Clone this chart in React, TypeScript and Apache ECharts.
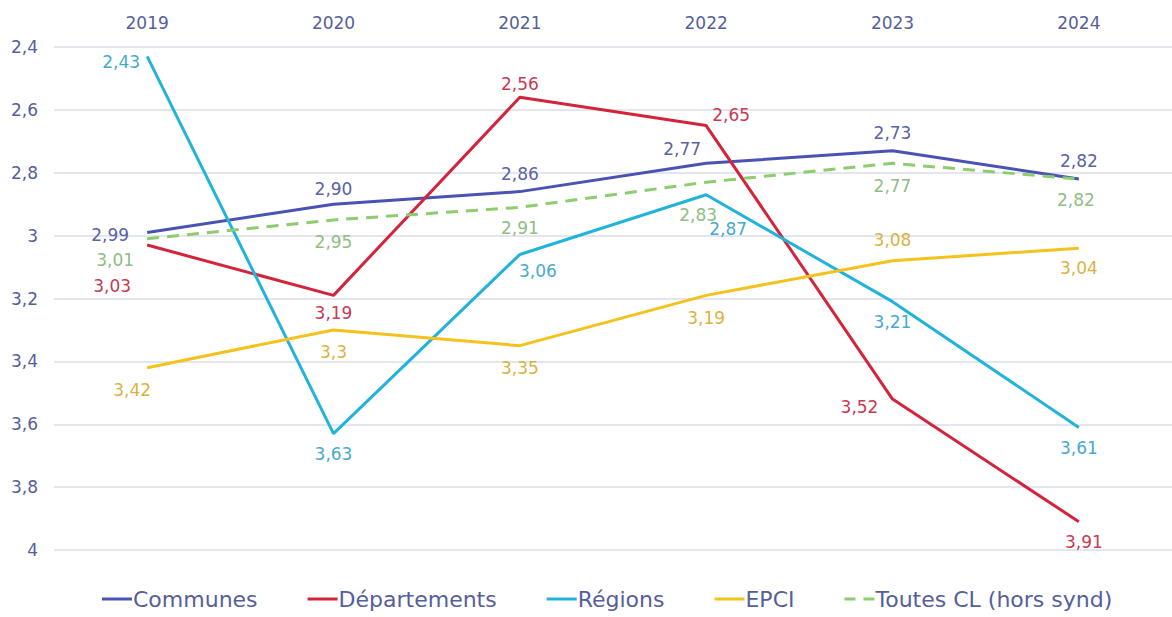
import React, { useEffect, useRef } from "react";
import * as echarts from "echarts";

const years = ["2019", "2020", "2021", "2022", "2023", "2024"];
const communes = [2.99, 2.9, 2.86, 2.77, 2.73, 2.82];
const departements = [3.03, 3.19, 2.56, 2.65, 3.52, 3.91];
const regions = [2.43, 3.63, 3.06, 2.87, 3.21, 3.61];
const epci = [3.42, 3.3, 3.35, 3.19, 3.08, 3.04];
const toutes = [3.01, 2.95, 2.91, 2.83, 2.77, 2.82];

const communesText = ["2,99", "2,90", "2,86", "2,77", "2,73", "2,82"];
const departementsText = ["3,03", "3,19", "2,56", "2,65", "3,52", "3,91"];
const regionsText = ["2,43", "3,63", "3,06", "2,87", "3,21", "3,61"];
const epciText = ["3,42", "3,3", "3,35", "3,19", "3,08", "3,04"];
const toutesText = ["3,01", "2,95", "2,91", "2,83", "2,77", "2,82"];

// label offsets (px) from each point — layout only
const communesOff = [[-37, 3], [0, -15], [0, -18], [-24, -14], [0, -18], [0, -18]];
const departementsOff = [[-35, 41], [0, 18], [0, -13], [25, -11], [-33, 8], [5, 20]];
const regionsOff = [[-26, 6], [0, 20], [18, 17], [22, 34], [0, 20], [0, 21]];
const epciOff = [[-15, 22], [0, 22], [0, 22], [0, 23], [0, -21], [0, 20]];
const toutesOff = [[-32, 21], [0, 22], [0, 21], [-8, 33], [0, 23], [-3, 21]];

const FONT = "DejaVu Sans";
const AXIS_COLOR = "#55609a";

function makeSeries(
  name: string,
  values: number[],
  texts: string[],
  offs: number[][],
  color: string,
  labelColor: string,
  dashed = false
) {
  return {
    name,
    type: "line",
    data: values.map((v, i) => ({
      value: v,
      label: { offset: offs[i], formatter: texts[i] },
    })),
    symbol: "circle",
    symbolSize: 0.01,
    showSymbol: true,
    itemStyle: { color },
    lineStyle: { color, width: 3, type: dashed ? [12, 8] : "solid" },
    label: {
      show: true,
      position: "inside",
      color: labelColor,
      fontFamily: FONT,
      fontSize: 17,
    },
    emphasis: { disabled: true },
    z: dashed ? 3 : 2,
  };
}

export default function App() {
  const ref = useRef<HTMLDivElement>(null);
  useEffect(() => {
    if (!ref.current) return;
    const chart = echarts.init(ref.current, null, { renderer: "svg" });
    chart.setOption({
      animation: false,
      backgroundColor: "#ffffff",
      grid: { left: 54, top: 47, width: 1128, height: 503, containLabel: false },
      xAxis: {
        type: "category",
        data: years,
        position: "top",
        boundaryGap: true,
        axisLine: { show: false },
        axisTick: { show: false },
        splitLine: { show: false },
        axisLabel: { color: AXIS_COLOR, fontFamily: FONT, fontSize: 17, margin: 16 },
      },
      yAxis: {
        type: "value",
        inverse: true,
        min: 2.4,
        max: 4,
        interval: 0.2,
        axisLine: { show: false },
        axisTick: { show: false },
        splitLine: { lineStyle: { color: "#e3e6ee", width: 2 } },
        axisLabel: {
          color: AXIS_COLOR,
          fontFamily: FONT,
          fontSize: 17,
          margin: 16,
          formatter: (v: number) => {
            const r = Math.round(v * 10) / 10;
            return String(r).replace(".", ",");
          },
        },
      },
      legend: {
        bottom: 2,
        left: 97,
        itemWidth: 30,
        itemHeight: 3,
        itemGap: 50,
        textStyle: { color: AXIS_COLOR, fontFamily: FONT, fontSize: 22, padding: [0, 0, 0, -4] },
        data: [
          { name: "Communes", icon: "rect" },
          { name: "Départements", icon: "rect" },
          { name: "Régions", icon: "rect" },
          { name: "EPCI", icon: "rect" },
          {
            name: "Toutes CL (hors synd)",
            icon: "path://M0,0h11v3h-11z M19,0h11v3h-11z",
          },
        ],
      },
      series: [
        makeSeries("Communes", communes, communesText, communesOff, "#4a52b3", "#5a63a6"),
        makeSeries("Départements", departements, departementsText, departementsOff, "#d3243c", "#c63a52"),
        makeSeries("Régions", regions, regionsText, regionsOff, "#22b3da", "#46aacd"),
        makeSeries("EPCI", epci, epciText, epciOff, "#f4c21c", "#d9b243"),
        makeSeries("Toutes CL (hors synd)", toutes, toutesText, toutesOff, "#8ccd6e", "#8fbd82", true),
      ],
    });
    return () => chart.dispose();
  }, []);
  return (
    <div
      ref={ref}
      style={{ position: "absolute", left: 0, top: 0, width: 1172, height: 617 }}
    />
  );
}
